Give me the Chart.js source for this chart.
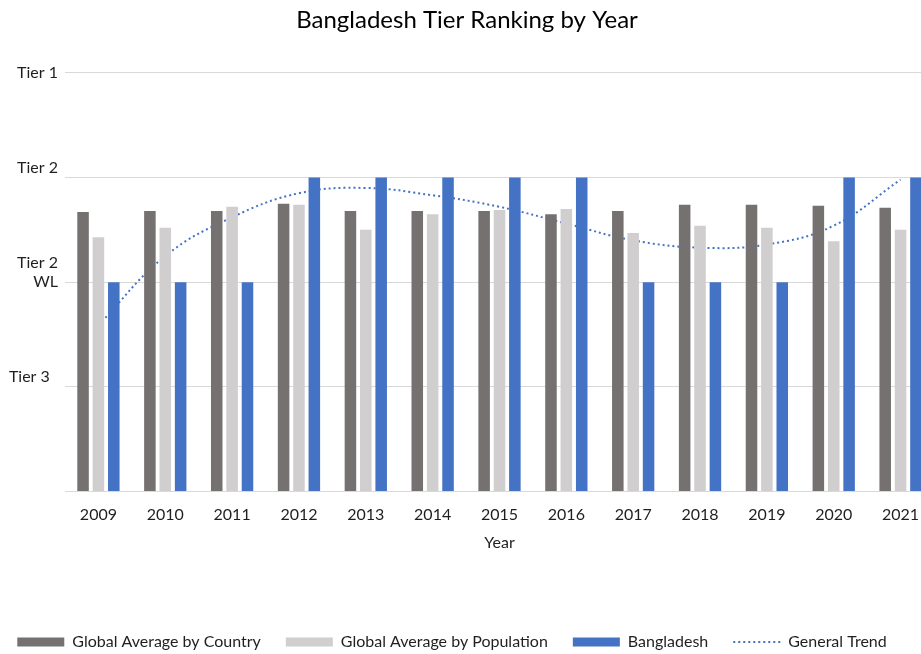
<!DOCTYPE html>
<html>
<head>
<meta charset="utf-8">
<script src="https://cdn.jsdelivr.net/npm/chart.js@4"></script>
<style>
  html, body { margin: 0; padding: 0; background: #ffffff; overflow: hidden; }
  #wrap { position: relative; width: 940px; height: 660px; }
</style>
</head>
<body>
<div id="wrap"><canvas id="c"></canvas></div>
<script>
const years = ['2009','2010','2011','2012','2013','2014','2015','2016','2017','2018','2019','2020','2021'];
const tierTickLabels = { 1: ['Tier 3  ', ''], 2: ['Tier 2', 'WL', ''], 3: ['Tier 2', ''], 4: 'Tier 1' };
const globalByCountry    = [2.67, 2.68, 2.68, 2.75, 2.68, 2.68, 2.68, 2.65, 2.68, 2.74, 2.74, 2.73, 2.71];
const globalByPopulation = [2.43, 2.52, 2.72, 2.74, 2.50, 2.65, 2.69, 2.70, 2.47, 2.54, 2.52, 2.39, 2.50];
const bangladesh         = [2, 2, 2, 3, 3, 3, 3, 3, 2, 2, 2, 3, 3];
const generalTrend       = [1.59, 2.25, 2.62, 2.85, 2.90, 2.83, 2.72, 2.56, 2.40, 2.33, 2.36, 2.54, 2.98];

const FONT = 'Lato, "Open Sans", sans-serif';
const TXT = '#1f1f1f';

const shiftLegend = {
  id: 'shiftLegend',
  afterLayout(chart) {
    if (chart.legend) { chart.legend.left -= 15; chart.legend.right -= 15; }
  }
};

new Chart(document.getElementById('c'), {
  type: 'bar',
  data: {
    labels: years,
    datasets: [
      { label: 'Global Average by Country', data: globalByCountry, backgroundColor: '#767171',
        barPercentage: 0.75, categoryPercentage: 0.69 },
      { label: 'Global Average by Population', data: globalByPopulation, backgroundColor: '#d0cece',
        barPercentage: 0.75, categoryPercentage: 0.69 },
      { label: 'Bangladesh', data: bangladesh, backgroundColor: '#4472c4',
        barPercentage: 0.75, categoryPercentage: 0.69 },
      { type: 'line', label: 'General Trend', data: generalTrend, borderColor: '#4472c4',
        backgroundColor: '#4472c4', borderWidth: 2, borderDash: [2, 3], pointRadius: 0,
        tension: 0.4, fill: false }
    ]
  },
  options: {
    responsive: true,
    maintainAspectRatio: false,
    animation: false,
    layout: { padding: { left: 0, right: 6, top: 0, bottom: 0 } },
    plugins: {
      title: {
        display: true,
        text: 'Bangladesh Tier Ranking by Year',
        color: '#000',
        font: { family: FONT, size: 24, weight: 'normal' },
        padding: { top: 6, bottom: 38 }
      },
      legend: {
        position: 'bottom',
        labels: {
          usePointStyle: true,
          pointStyleWidth: 47,
          boxHeight: 9,
          padding: 25,
          color: TXT,
          font: { family: FONT, size: 16 },
          generateLabels(chart) {
            return chart.data.datasets.map((ds, i) => {
              const isLine = ds.type === 'line';
              return {
                text: ds.label,
                fillStyle: isLine ? 'rgba(0,0,0,0)' : ds.backgroundColor,
                strokeStyle: isLine ? ds.borderColor : ds.backgroundColor,
                lineWidth: isLine ? 2 : 0,
                lineDash: isLine ? [2, 3] : [],
                pointStyle: isLine ? 'line' : 'rect',
                fontColor: TXT,
                hidden: false,
                datasetIndex: i
              };
            });
          }
        }
      },
      tooltip: { enabled: false }
    },
    scales: {
      x: {
        grid: { display: false, drawTicks: false },
        border: { display: true, color: '#d9d9d9', width: 1 },
        ticks: { color: TXT, font: { family: FONT, size: 16 }, padding: 14, maxRotation: 0 },
        title: {
          display: true, text: 'Year', color: TXT,
          font: { family: FONT, size: 16 },
          padding: { top: -6, bottom: 57 }
        }
      },
      y: {
        min: 0, max: 4,
        grid: { color: '#d9d9d9', lineWidth: 1, drawTicks: false },
        border: { display: false },
        afterFit(scale) { scale.width = 65; },
        ticks: {
          stepSize: 1,
          padding: 7,
          color: TXT,
          font: { family: FONT, size: 16 },
          callback(v) { return tierTickLabels[v] !== undefined ? tierTickLabels[v] : ''; }
        }
      }
    }
  },
  plugins: [shiftLegend]
});
</script>
</body>
</html>
